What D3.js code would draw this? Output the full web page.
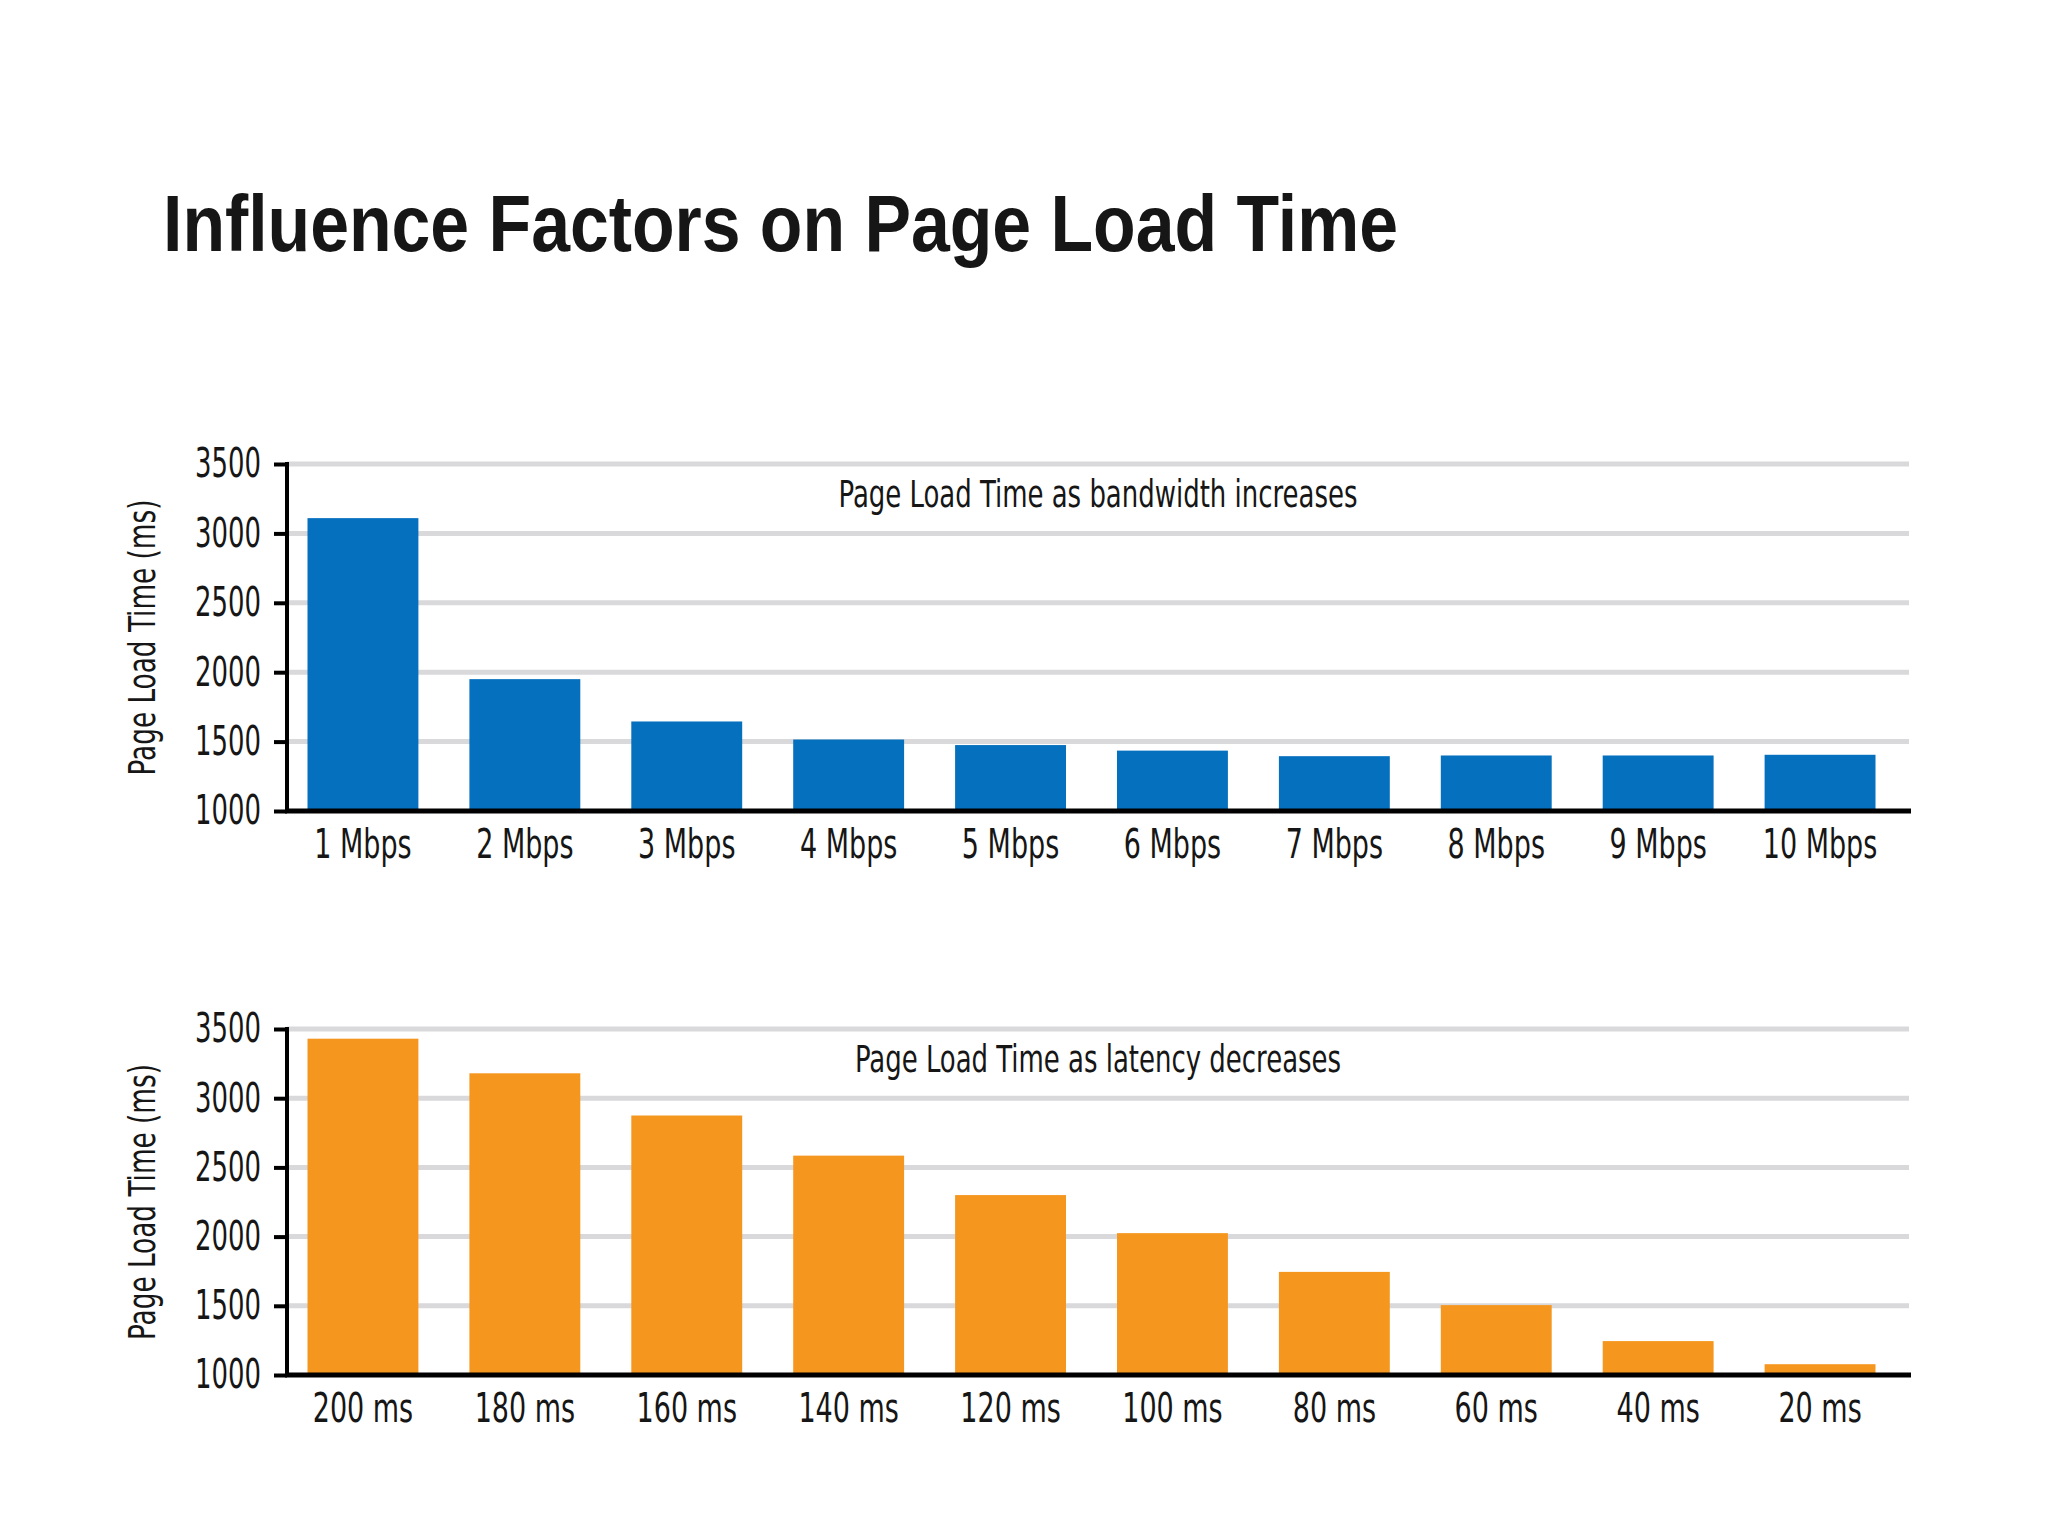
<!DOCTYPE html>
<html>
<head>
<meta charset="utf-8">
<script src="https://cdn.jsdelivr.net/npm/d3@7"></script>
<style>
  html, body { margin: 0; padding: 0; background: #ffffff; }
  svg { display: block; }
  text { fill: #161616; }
</style>
</head>
<body>
<svg id="chart" width="2048" height="1536"></svg>
<script>
// ---- data ----
const chartTitle = "Influence Factors on Page Load Time";
const yAxisTitle = "Page Load Time (ms)";
const yTickValues = [1000, 1500, 2000, 2500, 3000, 3500];

const bandwidthTitle = "Page Load Time as bandwidth increases";
const bandwidthCategories = ["1 Mbps", "2 Mbps", "3 Mbps", "4 Mbps", "5 Mbps", "6 Mbps", "7 Mbps", "8 Mbps", "9 Mbps", "10 Mbps"];
const bandwidthValues = [3110, 1950, 1645, 1515, 1475, 1435, 1395, 1400, 1400, 1405];

const latencyTitle = "Page Load Time as latency decreases";
const latencyCategories = ["200 ms", "180 ms", "160 ms", "140 ms", "120 ms", "100 ms", "80 ms", "60 ms", "40 ms", "20 ms"];
const latencyValues = [3430, 3180, 2875, 2585, 2300, 2025, 1745, 1505, 1245, 1078];

// ---- layout / style ----
const FONT = "'DejaVu Sans Condensed', 'DejaVu Sans', sans-serif";
const svg = d3.select("#chart");

function condense(sel, factor) {
  sel.each(function () {
    const w = this.getComputedTextLength();
    this.setAttribute("textLength", (w * factor).toFixed(1));
    this.setAttribute("lengthAdjust", "spacingAndGlyphs");
  });
}

const title = svg.append("text")
  .attr("x", 163).attr("y", 251)
  .attr("font-family", "'Liberation Sans', 'DejaVu Sans', sans-serif")
  .attr("font-weight", "bold")
  .attr("font-size", 80)
  .text(chartTitle);
title.attr("textLength", 1235).attr("lengthAdjust", "spacingAndGlyphs");

const plotLeft = 287, plotRight = 1909;

function drawPanel(cfg) {
  const g = svg.append("g");
  const y = d3.scaleLinear().domain([1000, 3500]).range([cfg.bottom, cfg.top]);
  const x = d3.scaleBand().domain(cfg.categories).range([282, 1901])
    .paddingInner(0.315).paddingOuter(0.1575);

  // gridlines
  g.append("g").selectAll("line").data(yTickValues.filter(v => v > 1000)).join("line")
    .attr("x1", plotLeft).attr("x2", plotRight)
    .attr("y1", d => y(d)).attr("y2", d => y(d))
    .attr("stroke", "#d9d9db").attr("stroke-width", 5);

  // bars
  g.append("g").selectAll("rect").data(cfg.values).join("rect")
    .attr("x", (d, i) => x(cfg.categories[i]))
    .attr("width", x.bandwidth())
    .attr("y", d => y(d))
    .attr("height", d => y(1000) - y(d))
    .attr("fill", cfg.color);

  // subtitle
  const st = g.append("text")
    .attr("x", (plotLeft + plotRight) / 2).attr("y", cfg.top + 43)
    .attr("text-anchor", "middle")
    .attr("font-family", FONT).attr("font-size", 37)
    .text(cfg.subtitle);
  condense(st, 0.78);

  // y axis
  const ya = g.append("g").attr("transform", `translate(${plotLeft},0)`)
    .call(d3.axisLeft(y).tickValues(yTickValues).tickSize(13).tickSizeOuter(0).tickPadding(13).tickFormat(d3.format("d")));
  ya.select(".domain").attr("stroke", "#000").attr("stroke-width", 4)
    .attr("d", `M0,${cfg.top - 2}V${cfg.bottom + 2}`);
  ya.selectAll(".tick line").attr("stroke", "#000").attr("stroke-width", 4);
  ya.selectAll(".tick text").attr("font-family", FONT).attr("font-size", 40).attr("fill", "#161616");
  condense(ya.selectAll(".tick text"), 0.72);

  // x axis
  const xa = g.append("g").attr("transform", `translate(0,${cfg.bottom})`)
    .call(d3.axisBottom(x).tickSize(0).tickPadding(19));
  xa.select(".domain").attr("stroke", "#000").attr("stroke-width", 5)
    .attr("d", `M${plotLeft - 2},0H${plotRight + 2}`);
  xa.selectAll(".tick text").attr("font-family", FONT).attr("font-size", 40).attr("fill", "#161616");
  condense(xa.selectAll(".tick text"), 0.75);

  // y axis title
  const yt = g.append("text")
    .attr("transform", `translate(155,${(cfg.top + cfg.bottom) / 2}) rotate(-90)`)
    .attr("text-anchor", "middle")
    .attr("font-family", FONT).attr("font-size", 38)
    .text(yAxisTitle);
  condense(yt, 0.77);
}

drawPanel({ top: 464, bottom: 811, categories: bandwidthCategories, values: bandwidthValues,
  color: "#0570be", subtitle: bandwidthTitle });
drawPanel({ top: 1029, bottom: 1375, categories: latencyCategories, values: latencyValues,
  color: "#f5971f", subtitle: latencyTitle });
</script>
</body>
</html>
